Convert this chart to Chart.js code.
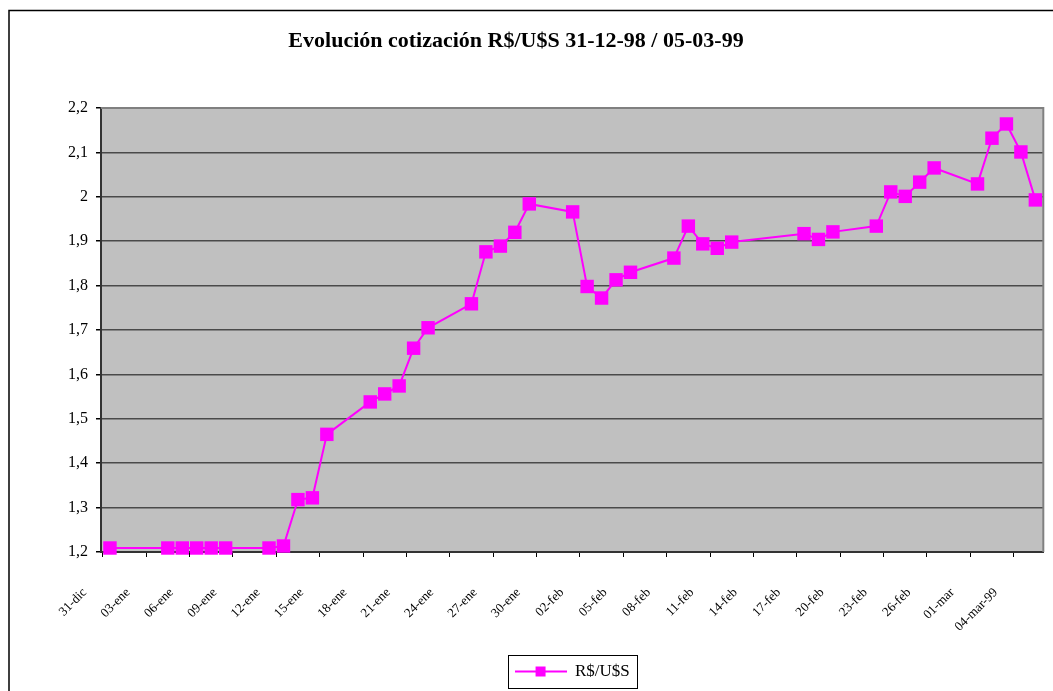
<!DOCTYPE html>
<html><head><meta charset="utf-8">
<script src="https://cdn.jsdelivr.net/npm/chart.js@4.4.0/dist/chart.umd.min.js"></script>
<style>html,body{margin:0;padding:0;background:#fff;overflow:hidden}#wrap{width:1053px;height:691px;position:relative}</style>
</head><body><div id="wrap"><canvas id="c" width="1053" height="691"></canvas></div>
<script>
const chartTitle = 'Evolución cotización R$/U$S 31-12-98 / 05-03-99';
const seriesName = 'R$/U$S';
// days counted from 31-12-1998
const days = [0,4,5,6,7,8,11,12,13,14,15,18,19,20,21,22,25,26,27,28,29,32,33,34,35,36,39,40,41,42,43,48,49,50,53,54,55,56,57,60,61,62,63,64];
const rates = [1.209,1.209,1.209,1.209,1.209,1.209,1.209,1.2135,1.318,1.322,1.465,1.538,1.556,1.574,1.659,1.705,1.759,1.876,1.889,1.920,1.984,1.966,1.798,1.772,1.813,1.830,1.862,1.934,1.894,1.884,1.898,1.917,1.904,1.921,1.934,2.011,2.001,2.033,2.065,2.029,2.132,2.164,2.101,1.993];
const tickLabels = ['31-dic','03-ene','06-ene','09-ene','12-ene','15-ene','18-ene','21-ene','24-ene','27-ene','30-ene','02-feb','05-feb','08-feb','11-feb','14-feb','17-feb','20-feb','23-feb','26-feb','01-mar','04-mar-99'];
const tickDays = [-0.5,2.5,5.5,8.5,11.5,14.5,17.5,20.5,23.5,26.5,29.5,32.5,35.5,38.5,41.5,44.5,47.5,50.5,53.5,56.5,59.5,62.5];
const yTicks = [1.2,1.3,1.4,1.5,1.6,1.7,1.8,1.9,2.0,2.1,2.2];

const serif = '"Liberation Serif", "Times New Roman", serif';
const MAG = '#FF00FF';

// legend icon: line with square marker
const legendIcon = document.createElement('canvas');
legendIcon.width = 52; legendIcon.height = 12;
(function(){
  const g = legendIcon.getContext('2d');
  g.strokeStyle = MAG; g.lineWidth = 2;
  g.beginPath(); g.moveTo(0,6); g.lineTo(52,6); g.stroke();
  g.fillStyle = MAG; g.fillRect(21,1,10,10);
})();

const decor = {
  id: 'decor',
  beforeDraw(chart) {
    const ctx = chart.ctx, a = chart.chartArea;
    ctx.save();
    ctx.fillStyle = '#fff'; ctx.fillRect(0,0,chart.width,chart.height);
    ctx.fillStyle = '#C0C0C0'; ctx.fillRect(a.left,a.top,a.right-a.left,a.bottom-a.top);
    ctx.restore();
  },
  afterDraw(chart) {
    const ctx = chart.ctx, a = chart.chartArea;
    ctx.save();
    ctx.strokeStyle = '#808080'; ctx.lineWidth = 2;
    ctx.beginPath(); ctx.moveTo(a.left, a.top); ctx.lineTo(a.right, a.top); ctx.lineTo(a.right, a.bottom); ctx.stroke();
    ctx.strokeStyle = '#000'; ctx.lineWidth = 1.5;
    ctx.strokeRect(9, 10.5, 1200, 900);
    const hb = chart.legend.legendHitBoxes[0];
    if (hb) {
      ctx.strokeStyle = '#000'; ctx.lineWidth = 1;
      ctx.strokeRect(Math.round(hb.left - 7) + 0.5, Math.round(hb.top - 8) + 0.5, Math.round(hb.width + 14), Math.round(hb.height + 16));
    }
    ctx.fillStyle = '#000';
    ctx.font = 'bold 22px ' + serif;
    ctx.textAlign = 'center'; ctx.textBaseline = 'middle';
    ctx.fillText(chartTitle, 516, 41);
    ctx.restore();
  }
};

new Chart(document.getElementById('c'), {
  type: 'line',
  data: {
    datasets: [{
      label: seriesName,
      data: days.map((d, i) => ({x: d, y: rates[i]})),
      borderColor: MAG, borderWidth: 2,
      pointStyle: 'rect', pointRadius: 9.5, pointHoverRadius: 9.5,
      pointBackgroundColor: MAG, pointBorderColor: MAG, pointBorderWidth: 0,
      tension: 0, clip: false
    }]
  },
  options: {
    responsive: false, animation: false,
    layout: { padding: { left: 0, right: 7, top: 108, bottom: 1 } },
    plugins: {
      title: { display: false },
      tooltip: { enabled: false },
      legend: {
        position: 'bottom', fullSize: false,
        labels: { usePointStyle: true, pointStyle: legendIcon, pointStyleWidth: 52,
          font: { family: serif, size: 17 }, color: '#000', padding: 10 }
      }
    },
    scales: {
      x: {
        type: 'linear', min: -0.62, max: 64.55,
        afterBuildTicks: s => { s.ticks = tickDays.map(v => ({value: v})); },
        afterFit: s => { s.height = 101; },
        ticks: { autoSkip: false, maxRotation: 45, minRotation: 45, labelOffset: -18, padding: 28,
          font: { family: serif, size: 13 }, color: '#000',
          callback: (v, i) => tickLabels[i] },
        grid: { drawOnChartArea: false, drawTicks: true, tickLength: 5, tickColor: '#000', tickWidth: 1 },
        border: { color: '#333', width: 2 }
      },
      y: {
        min: 1.2, max: 2.2,
        afterBuildTicks: s => { s.ticks = yTicks.map(v => ({value: v})); },
        afterFit: s => { s.width = 101; },
        ticks: { font: { family: serif, size: 16 }, color: '#000', padding: 8,
          callback: v => String(Number(v.toFixed(1))).replace('.', ',') },
        grid: { color: '#4a4a4a', lineWidth: 1.5, tickLength: 5, tickColor: '#000' },
        border: { color: '#333', width: 2 }
      }
    }
  },
  plugins: [decor]
});
</script>
</body></html>
